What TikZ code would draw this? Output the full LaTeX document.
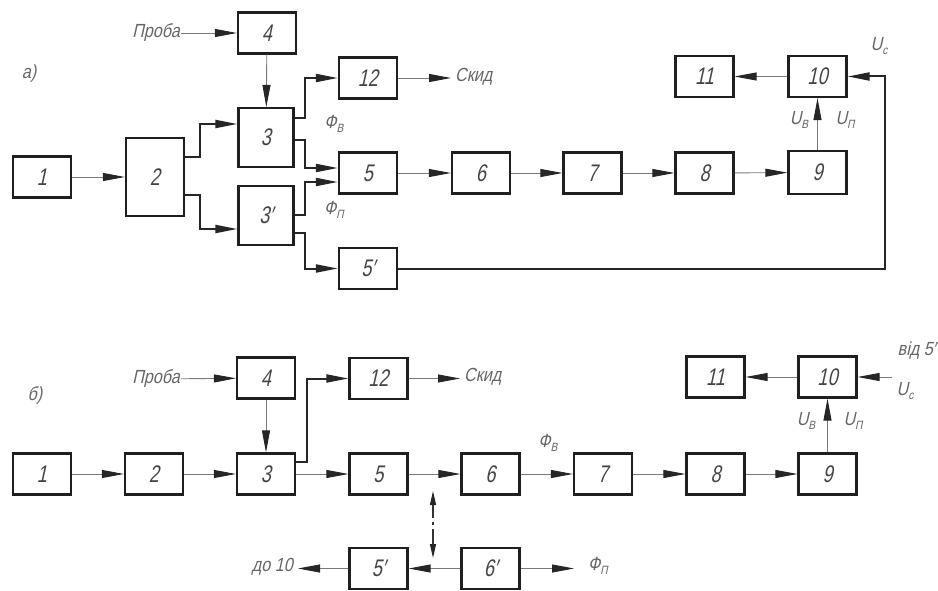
\documentclass[tikz,border=0pt]{standalone}
\usepackage{fontspec}
\newfontfamily\gostnum[FakeStretch=0.75,FakeSlant=0.22]{Liberation Sans}
\newfontfamily\gostlab[FakeStretch=0.85,FakeSlant=0.22]{Liberation Sans}
\usetikzlibrary{arrows.meta}
\newcommand{\pr}{′}
\newcommand{\sbs}[1]{\raisebox{-0.45ex}{\fontsize{12}{12}\selectfont #1}}
\definecolor{numc}{HTML}{444444}
\definecolor{labc}{HTML}{666666}
\definecolor{thinc}{HTML}{7A7A7A}
\begin{document}
\begin{tikzpicture}[x=1pt,y=-1pt,
  blk/.style={draw=black!88,line width=2.2pt,minimum width=58pt,minimum height=41pt,inner sep=0pt,
    font=\gostnum\fontsize{24}{24}\selectfont,text=numc},
  lab/.style={font=\gostlab\fontsize{19}{19}\selectfont,text=labc,inner sep=1pt},
  tip/.style={-{Triangle[length=22pt,width=8pt,color=black!85,fill=black!85]}},
  dtip/.style={{Triangle[length=14pt,width=6pt,color=black!85,fill=black!85]}-{Triangle[length=14pt,width=6pt,color=black!85,fill=black!85]}},
  thin/.style={draw=thinc,line width=0.9pt},
  thick/.style={draw=black!85,line width=2pt}]
\useasboundingbox (0,0) rectangle (938,591);
% ---------------- a) ----------------
\node[lab] (la) at (29,74) {а)};
\node[blk] (a1) at (42,177) {1};
\node[blk,minimum height=78pt] (a2) at (155,177) {2};
\node[blk] (a4) at (267,33) {4};
\node[blk,minimum width=55pt,minimum height=59pt] (a3) at (266,137.5) {3};
\node[blk,minimum width=55pt,minimum height=59pt] (a3p) at (266,215.5) {3\pr};
\node[blk] (a12) at (368,78) {12};
\node[blk] (a5) at (368,173) {5};
\node[blk] (a5p) at (368,268.5) {5\pr};
\node[blk] (a6) at (481,173) {6};
\node[blk] (a7) at (592.5,173) {7};
\node[blk] (a8) at (704.5,173) {8};
\node[blk,minimum height=43pt] (a9) at (817.5,172.5) {9};
\node[blk] (a10) at (817.5,76.5) {10};
\node[blk] (a11) at (704.5,76.5) {11};
\node[lab,anchor=east] (aprob) at (181,33) {Проба};
\node[lab,anchor=west] (askid) at (454,77) {Скид};
\coordinate (askidin) at (451,78);
\node[lab] (afv) at (334,124) {Ф\sbs{В}};
\node[lab] (afp) at (334,210) {Ф\sbs{П}};
\node[lab] (auc) at (879,46) {U\sbs{c}};
\node[lab] (auv) at (799,120) {U\sbs{В}};
\node[lab] (aup) at (845,120) {U\sbs{П}};
% thin arrows
\draw[thin,tip] (aprob) -- (a4);
\draw[thin,tip] (a1) -- (a2);
\draw[thin,tip] (a4) -- (a3);
\draw[thin,tip] (a12) -- (askidin);
\draw[thin,tip] (a5) -- (a6);
\draw[thin,tip] (a6) -- (a7);
\draw[thin,tip] (a7) -- (a8);
\draw[thin,tip] (a8) -- (a9);
\draw[thin,tip] (a9) -- (a10);
\draw[thin,tip] (a10) -- (a11);
% thick branches
\draw[thick,tip] (a2.east |- 0,157) -- (200,157) -- (200,124) -- (a3.west |- 0,124);
\draw[thick,tip] (a2.east |- 0,195) -- (200,195) -- (200,229) -- (a3p.west |- 0,229);
\draw[thick,tip] (a3.east |- 0,118) -- (305,118) -- (305,78) -- (a12.west);
\draw[thick,tip] (a3.east |- 0,140) -- (305,140) -- (305,168) -- (a5.west |- 0,168);
\draw[thick,tip] (a3p.east |- 0,215) -- (305,215) -- (305,182) -- (a5.west |- 0,182);
\draw[thick,tip] (a3p.east |- 0,233) -- (305,233) -- (305,268.5) -- (a5p.west);
\draw[thick,tip] (a5p.east) -- (885,268.5) -- (885,76.5) -- (a10.east);
% ---------------- b) ----------------
\node[lab] (lb) at (35,395) {б)};
\node[blk] (b1) at (42,474) {1};
\node[blk] (b2) at (154,474) {2};
\node[blk] (b3) at (266,474) {3};
\node[blk] (b4) at (266,378) {4};
\node[blk] (b12) at (378.5,378.5) {12};
\node[blk] (b5) at (378.5,474) {5};
\node[blk] (b5p) at (378.5,568.5) {5\pr};
\node[blk] (b6) at (490.5,474) {6};
\node[blk] (b6p) at (490.5,568.5) {6\pr};
\node[blk] (b7) at (603,474) {7};
\node[blk] (b8) at (715.5,474) {8};
\node[blk] (b9) at (827.5,474) {9};
\node[blk] (b10) at (827.5,377) {10};
\node[blk] (b11) at (715.5,377) {11};
\node[lab,anchor=east] (bprob) at (181,379) {Проба};
\node[lab,anchor=west] (bskid) at (463,377) {Скид};
\coordinate (bskidin) at (460,378.5);
\node[lab] (bfv) at (548,443) {Ф\sbs{В}};
\node[lab] (bfp) at (598,566) {Ф\sbs{П}};
\coordinate (bfpin) at (574,568.5);
\node[lab,anchor=east] (bdo) at (294,567) {до 10};
\coordinate (bdoin) at (298,568.5);
\node[lab,anchor=east] (bvid) at (937,351) {від 5\pr};
\node[lab] (buc) at (905,391) {U\sbs{c}};
\coordinate (bucin) at (892,377);
\node[lab] (buv) at (806,421) {U\sbs{В}};
\node[lab] (bup) at (853,421) {U\sbs{П}};
\coordinate (dtop) at (433,491);
\coordinate (dbot) at (433,558);
\draw[thin,tip] (bprob) -- (b4);
\draw[thin,tip] (b1) -- (b2);
\draw[thin,tip] (b2) -- (b3);
\draw[thin,tip] (b3) -- (b5);
\draw[thin,tip] (b5) -- (b6);
\draw[thin,tip] (b6) -- (b7);
\draw[thin,tip] (b7) -- (b8);
\draw[thin,tip] (b8) -- (b9);
\draw[thin,tip] (b4) -- (b3);
\draw[thin,tip] (b12) -- (bskidin);
\draw[thin,tip] (b9) -- (b10);
\draw[thin,tip] (b10) -- (b11);
\draw[thin,tip] (bucin) -- (b10);
\draw[thin,tip] (b6p) -- (bfpin);
\draw[thin,tip] (b6p) -- (b5p);
\draw[thin,tip] (b5p) -- (bdoin);
\draw[thick,tip] (b3.east |- 0,462) -- (307,462) -- (307,378.5) -- (b12.west);
\draw[thin,line width=1.2pt,draw=black!80,dtip,dash pattern=on 13pt off 4pt on 3pt off 4pt on 40pt] (dtop) -- (dbot);
\end{tikzpicture}
\end{document}
